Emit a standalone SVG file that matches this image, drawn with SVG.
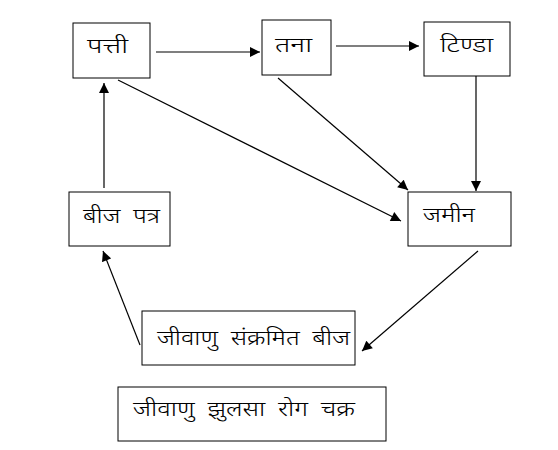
<svg xmlns="http://www.w3.org/2000/svg" width="558" height="450" viewBox="0 0 558 450">
<style>
.box{fill:#fff;stroke:#000;stroke-width:1}
.t{font-family:"Noto Sans Devanagari","Noto Sans","Lohit Devanagari","DejaVu Sans",sans-serif;font-size:21px;font-weight:300;word-spacing:5px;fill:#000}
.c{stroke:#000;stroke-width:1.2;fill:none;marker-end:url(#ah)}
</style>
<defs>
<marker id="ah" viewBox="0 0 10 10" refX="10" refY="5" markerWidth="11" markerHeight="10" markerUnits="userSpaceOnUse" orient="auto">
<path d="M0,0 L10,5 L0,10 Z" fill="#000"/>
</marker>
</defs>
<rect width="558" height="450" fill="#fff"/>
<g id="connectors">
<line class="c" x1="156" y1="52" x2="260" y2="52"/>
<line class="c" x1="336" y1="46" x2="419" y2="46"/>
<line class="c" x1="476" y1="76" x2="476" y2="191"/>
<line class="c" x1="278" y1="78" x2="408" y2="190"/>
<line class="c" x1="118" y1="80" x2="401" y2="221"/>
<line class="c" x1="104" y1="188" x2="104" y2="83"/>
<line class="c" x1="140" y1="345" x2="103" y2="251"/>
<line class="c" x1="478" y1="251" x2="362" y2="351"/>
</g>
<g id="patti"><rect class="box" x="73" y="23" width="77" height="55"/><text class="t" x="87" y="53" textLength="41" lengthAdjust="spacingAndGlyphs">पत्ती</text></g>
<g id="tana"><rect class="box" x="262" y="20" width="69" height="55"/><text class="t" x="275" y="52" textLength="37" lengthAdjust="spacingAndGlyphs">तना</text></g>
<g id="tinda"><rect class="box" x="424" y="22" width="86" height="54"/><text class="t" x="440" y="52" textLength="53" lengthAdjust="spacingAndGlyphs">टिण्डा</text></g>
<g id="zameen"><rect class="box" x="408" y="192" width="103" height="54"/><text class="t" x="423" y="222" textLength="52" lengthAdjust="spacingAndGlyphs">जमीन</text></g>
<g id="beejpatra"><rect class="box" x="69" y="192" width="101" height="54"/><text class="t" x="83" y="223" textLength="77" lengthAdjust="spacingAndGlyphs">बीज पत्र</text></g>
<g id="sankramit"><rect class="box" x="142" y="311" width="213" height="54"/><text class="t" x="157" y="345" textLength="193" lengthAdjust="spacingAndGlyphs">जीवाणु संक्रमित बीज</text></g>
<g id="title"><rect class="box" x="118" y="387" width="268" height="54"/><text class="t" x="133" y="416" textLength="222" lengthAdjust="spacingAndGlyphs">जीवाणु झुलसा रोग चक्र</text></g>
</svg>
